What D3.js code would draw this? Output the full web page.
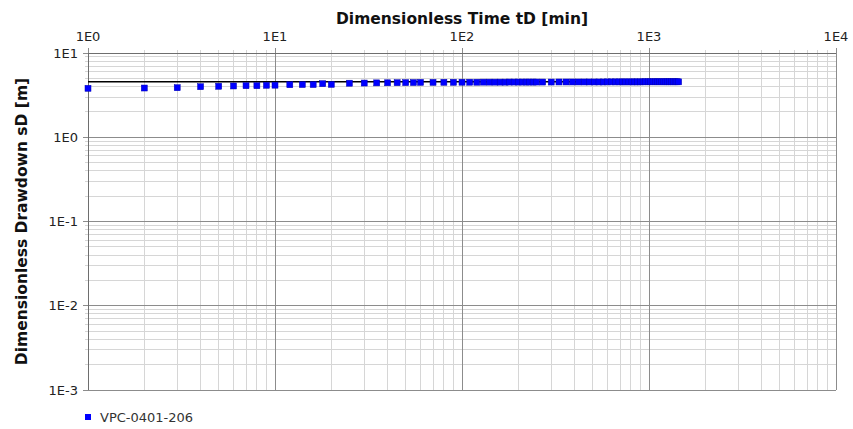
<!DOCTYPE html>
<html><head><meta charset="utf-8">
<script src="https://cdn.jsdelivr.net/npm/d3@7"></script>
<style>
html,body{margin:0;padding:0;background:#fff;}
text{font-family:"DejaVu Sans",Verdana,sans-serif;}
</style></head>
<body>
<svg id="chart" width="853" height="429"></svg>
<script>
const times = [1,2,3,4,5,6,7,8,9,10,12,14,16,18,20,25,30,35,40,45,50,55,60,70,80,90,100,
  110,120,130,140,150,160,170,180,190,200,210,220,230,240,250,
  270,300,330,360,390,420,450,480,510,540,570,600,630,660,690,720,750,780,810,840,870,900,
  930,960,990,1020,1050,1080,1110,1140,1170,1200,1230,1260,1290,1320,1350,1380,1410,1440];
const drawdown = [3.81,3.84,3.87,3.98,4.03,4.06,4.09,4.09,4.14,4.15,4.20,4.22,4.22,4.32,4.24,4.38,4.40,4.42,4.43,4.44,4.45,4.46,4.48,4.48,4.49,4.49,4.50,
  4.50,4.50,4.51,4.51,4.51,4.51,4.51,4.52,4.52,4.52,4.52,4.52,4.52,4.52,4.52,
  4.52,4.52,4.53,4.53,4.53,4.53,4.53,4.53,4.53,4.53,4.53,4.54,4.54,4.54,4.54,4.54,4.54,4.54,4.54,4.54,4.54,4.54,
  4.55,4.55,4.55,4.55,4.55,4.55,4.55,4.55,4.55,4.55,4.55,4.55,4.55,4.55,4.55,4.55,4.55,4.55];
const modelLevel = [4.55];
const modelRange = [1, 1440];
const xTickLabels = ["1E0","1E1","1E2","1E3","1E4"];
const yTickLabels = ["1E-3","1E-2","1E-1","1E0","1E1"];
const xTitle = "Dimensionless Time tD [min]";
const yTitle = "Dimensionless Drawdown sD [m]";
const seriesName = "VPC-0401-206";

const svg = d3.select("#chart");
const m = {left:88, top:53, right:17, bottom:39};
const W = 853 - m.left - m.right, H = 429 - m.top - m.bottom;
const x = d3.scaleLog().domain([1,1e4]).range([0,W]);
const y = d3.scaleLog().domain([1e-3,1e1]).range([H,0]);
const g = svg.append("g").attr("transform",`translate(${m.left},${m.top})`);

const majorX = [1,10,100,1000,10000];
const minorX = [];
for (let d=1; d<1e4; d*=10) for (let k=2;k<10;k++) minorX.push(d*k);
const majorY = [1e-3,1e-2,1e-1,1,10];
const minorY = [];
for (let d=1e-3; d<9; d*=10) for (let k=2;k<10;k++) minorY.push(d*k);

// minor grid
g.selectAll(".mgx").data(minorX).enter().append("line")
  .attr("x1",d=>x(d)).attr("x2",d=>x(d)).attr("y1",-3).attr("y2",H)
  .attr("stroke","#d6d6d6").attr("stroke-width",1).attr("shape-rendering","crispEdges");
g.selectAll(".mgy").data(minorY).enter().append("line")
  .attr("y1",d=>y(d)).attr("y2",d=>y(d)).attr("x1",-3).attr("x2",W)
  .attr("stroke","#d6d6d6").attr("stroke-width",1).attr("shape-rendering","crispEdges");
// major grid
g.selectAll(".Mgx").data(majorX).enter().append("line")
  .attr("x1",d=>x(d)).attr("x2",d=>x(d)).attr("y1",-5).attr("y2",H)
  .attr("stroke","#8c8c8c").attr("stroke-width",1).attr("shape-rendering","crispEdges");
g.selectAll(".Mgy").data(majorY).enter().append("line")
  .attr("y1",d=>y(d)).attr("y2",d=>y(d)).attr("x1",-5).attr("x2",W)
  .attr("stroke","#8c8c8c").attr("stroke-width",1).attr("shape-rendering","crispEdges");

// axes frame
g.append("line").attr("x1",0).attr("x2",W).attr("y1",0).attr("y2",0).attr("stroke","#6e6e6e").attr("shape-rendering","crispEdges");
g.append("line").attr("x1",0).attr("x2",0).attr("y1",0).attr("y2",H).attr("stroke","#6e6e6e").attr("shape-rendering","crispEdges");
g.append("line").attr("x1",0).attr("x2",W).attr("y1",H).attr("y2",H).attr("stroke","#8c8c8c").attr("shape-rendering","crispEdges");

// tick labels
g.selectAll(".xl").data(majorX).enter().append("text")
  .attr("x",d=>x(d)).attr("y",-12).attr("text-anchor","middle")
  .attr("font-size","13px").attr("fill","#222").text((d,i)=>xTickLabels[i]);
g.selectAll(".yl").data(majorY).enter().append("text")
  .attr("x",-10).attr("y",d=>y(d)).attr("dy","0.36em").attr("text-anchor","end")
  .attr("font-size","13px").attr("fill","#222").text((d,i)=>yTickLabels[i]);

// titles
svg.append("text").attr("x",m.left+W/2).attr("y",24).attr("text-anchor","middle")
  .attr("font-size","15.5px").attr("font-weight","bold").attr("fill","#111").text(xTitle);
svg.append("text").attr("transform",`translate(27,${m.top+H/2}) rotate(-90)`).attr("text-anchor","middle")
  .attr("font-size","15.5px").attr("font-weight","bold").attr("fill","#111").text(yTitle);

// model line
g.append("line").attr("x1",x(modelRange[0])).attr("x2",x(modelRange[1]))
  .attr("y1",y(modelLevel[0])).attr("y2",y(modelLevel[0]))
  .attr("stroke","#000").attr("stroke-width",1.5);

// data points
const pts = times.map((t,i)=>({t, s:drawdown[i]}));
const ms = 6;
g.selectAll(".pt").data(pts).enter().append("rect")
  .attr("x",d=>x(d.t)-ms/2).attr("y",d=>y(d.s)-ms/2).attr("width",ms).attr("height",ms)
  .attr("fill","#0000ff").attr("stroke","#0000b0").attr("stroke-width",0.5);

// legend
svg.append("rect").attr("x",85).attr("y",414).attr("width",6).attr("height",6).attr("fill","#0000ff");
svg.append("text").attr("x",100).attr("y",422).attr("font-size","13px").attr("fill","#333").text(seriesName);
</script>
</body></html>
